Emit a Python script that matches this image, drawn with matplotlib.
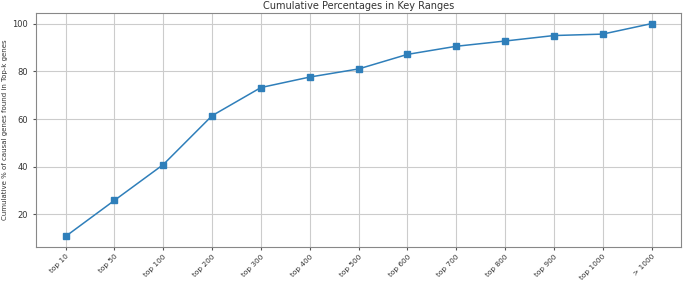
import matplotlib
matplotlib.use('Agg')
import matplotlib.pyplot as plt

ranges = ['top 10', 'top 50', 'top 100', 'top 200', 'top 300', 'top 400', 'top 500',
          'top 600', 'top 700', 'top 800', 'top 900', 'top 1000', '> 1000']
cumulative_pct = [10.8, 25.9, 40.9, 61.4, 73.2, 77.6, 81.0, 87.1, 90.5, 92.7, 95.0, 95.6, 100.0]

fig = plt.figure(figsize=(6.85, 2.82), dpi=100)
ax = fig.add_axes([0.053, 0.124, 0.941, 0.830])

ax.plot(range(len(ranges)), cumulative_pct, marker='s', markersize=4, linewidth=1.1, color='#2f7fba')
ax.set_xticks(range(len(ranges)))
ax.set_xticklabels(ranges, rotation=45, ha='right', rotation_mode='anchor',
                   fontsize=5.3, color='#333333')
ax.tick_params(axis='x', pad=2)
ax.tick_params(axis='y', labelsize=6, labelcolor='#333333')
ax.tick_params(length=2.5, color='#555555')
ax.set_yticks([20, 40, 60, 80, 100])
ax.set_ylabel('Cumulative % of causal genes found in Top-k genes', fontsize=5, color='#333333', labelpad=3)
ax.set_title('Cumulative Percentages in Key Ranges', fontsize=7, color='#333333', pad=3)
ax.grid(True, color='#cccccc', linewidth=0.8)
for s in ax.spines.values():
    s.set_color('#888888')

fig.savefig('out.png', dpi=100)
plt.close(fig)
